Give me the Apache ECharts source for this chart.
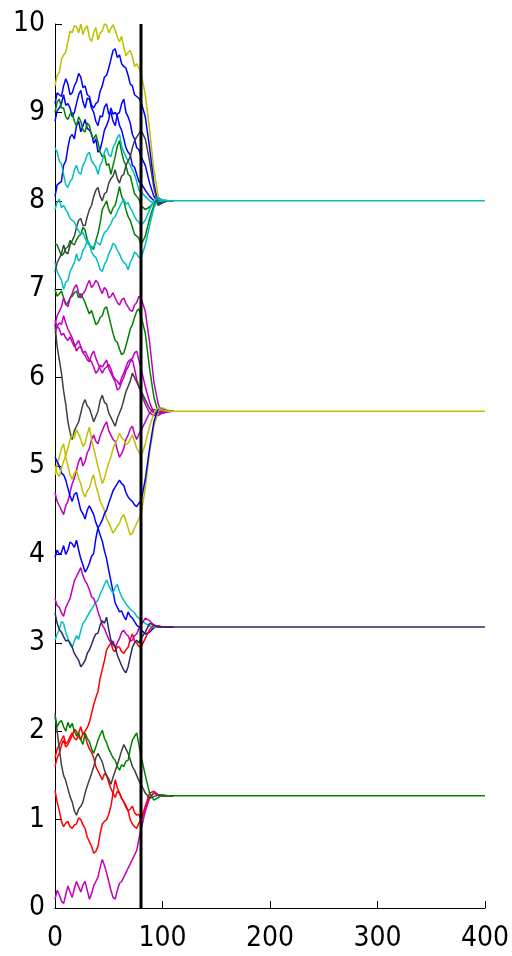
<!DOCTYPE html>
<html>
<head>
<meta charset="utf-8">
<title>Consensus of random walkers</title>
<script src="https://cdn.jsdelivr.net/npm/echarts@6/dist/echarts.min.js"></script>
<style>
  html, body { margin: 0; padding: 0; background: #ffffff; }
  #chart { width: 512px; height: 956px; }
</style>
</head>
<body>
<div id="chart"></div>
<script>
// Sampling of the random-walk phase (t = 0..80, every 2 steps)
const walkStep = 2;
// Time stamps of the settling phase after the switch at t = 80
const tailT = [84, 88, 92, 96, 100, 105, 110];
const endT = 400;
const switchT = 80;

// Levels the walkers settle on
const levels = [8.0, 5.62, 3.18, 1.27];

// Axis ticks
const xTicks = [0, 100, 200, 300, 400];
const yTicks = [0, 1, 2, 3, 4, 5, 6, 7, 8, 9, 10];

// Colour order
const C = {
  blue: '#0000ff', green: '#008000', red: '#ff0000', cyan: '#00bfbf',
  magenta: '#bf00bf', yellow: '#bfbf00', dark: '#404040', navy: '#2a2a62'
};

// ---- walkers settling on 8.0 ----
const yellowTop  = [9.3,9.42, 9.45,9.6, 9.65,9.68, 9.8,9.92, 9.9,9.98, 9.97,9.9, 10.0,9.88, 9.95,9.98, 9.85,9.8, 9.9,9.96, 9.82,9.9, 9.92,10.0, 9.99,9.9, 9.95,9.99, 9.93,9.85, 9.8,9.86, 9.74,9.64, 9.68,9.7, 9.63,9.52, 9.55,9.5, 9.45];
const yellowTopT = [9.2, 8.8, 8.35, 8.05, 7.98, 8.0, 8.0];
const blueA      = [9.1,9.22, 9.2,9.18, 9.3,9.38, 9.32,9.2, 9.22,9.3, 9.35,9.44, 9.4,9.28, 9.3,9.2, 9.18,9.08, 9.05,9.1, 9.12,9.24, 9.3,9.4, 9.42,9.5, 9.6,9.7, 9.72,9.62, 9.65,9.55, 9.52,9.5, 9.42,9.32, 9.3,9.2, 9.18,9.16, 9.12];
const blueAT     = [8.95, 8.6, 8.2, 7.95, 7.98, 8.0, 8.0];
const blueB      = [8.9,9.02, 9.05,9.1, 9.2,9.08, 9.1,9.05, 8.95,9.0, 9.1,9.2, 9.25,9.12, 9.05,9.16, 9.15,9.05, 9.0,8.9, 8.85,8.96, 8.95,9.06, 9.1,8.98, 9.0,8.9, 8.85,8.98, 9.0,9.1, 9.15,9.0, 8.95,8.88, 8.75,8.7, 8.6,8.58, 8.5];
const blueBT     = [8.4, 8.2, 8.05, 7.97, 8.0, 8.0, 8.0];
const blueC      = [8.05,8.18, 8.2,8.22, 8.4,8.45, 8.6,8.72, 8.75,8.7, 8.85,8.9, 8.78,8.85, 8.92,8.82, 8.8,8.76, 8.65,8.7, 8.55,8.58, 8.68,8.8, 8.85,8.92, 9.05,8.98, 9.0,8.96, 8.85,8.8, 8.7,8.6, 8.55,8.52, 8.4,8.38, 8.3,8.22, 8.2];
const blueCT     = [8.12, 8.05, 8.0, 7.98, 8.0, 8.0, 8.0];
const greenTop   = [9.0,9.12, 9.15,9.05, 9.05,8.95, 8.92,8.98, 9.0,8.9, 8.85,8.95, 8.9,8.8, 8.78,8.88, 8.85,8.74, 8.7,8.75, 8.66,8.55, 8.5,8.52, 8.4,8.42, 8.3,8.4, 8.5,8.62, 8.68,8.55, 8.45,8.4, 8.3,8.28, 8.18,8.08, 8.05,8.02, 7.95];
const greenTopT  = [7.9, 7.93, 7.98, 8.0, 8.0, 8.0, 8.0];
const cyanB      = [8.6,8.55, 8.45,8.42, 8.3,8.18, 8.15,8.22, 8.25,8.35, 8.4,8.32, 8.3,8.4, 8.45,8.52, 8.55,8.45, 8.42,8.38, 8.3,8.4, 8.45,8.55, 8.6,8.52, 8.5,8.6, 8.65,8.72, 8.75,8.62, 8.55,8.5, 8.45,8.4, 8.35,8.3, 8.22,8.12, 8.1];
const cyanBT     = [8.05, 8.0, 7.97, 7.99, 8.0, 8.0, 8.0];
const greenMid   = [7.52,7.5, 7.44,7.38, 7.4,7.46, 7.48,7.55, 7.52,7.5, 7.56,7.6, 7.62,7.7, 7.67,7.56, 7.5,7.48, 7.45,7.55, 7.63,7.75, 7.9,7.95, 8.0,7.9, 7.85,7.92, 7.95,8.05, 8.16,8.05, 8.0,7.9, 7.82,7.78, 7.7,7.62, 7.6,7.58, 7.5];
const greenMidT  = [7.6, 7.8, 7.95, 8.03, 8.01, 8.0, 8.0];
const cyanC      = [7.3,7.2, 7.15,7.1, 7.0,7.08, 7.1,7.2, 7.25,7.3, 7.4,7.32, 7.35,7.44, 7.48,7.55, 7.52,7.42, 7.38,7.36, 7.3,7.22, 7.2,7.28, 7.32,7.4, 7.45,7.52, 7.5,7.44, 7.4,7.34, 7.3,7.28, 7.22,7.3, 7.35,7.42, 7.4,7.36, 7.35];
const cyanCT     = [7.5, 7.72, 7.92, 8.02, 8.01, 8.0, 8.0];
const darkTop    = [7.2,7.3, 7.35,7.4, 7.5,7.42, 7.4,7.5, 7.55,7.6, 7.7,7.78, 7.8,7.72, 7.72,7.82, 7.9,7.95, 8.05,8.12, 8.15,8.05, 8.0,8.08, 8.1,8.2, 8.25,8.28, 8.35,8.25, 8.2,8.28, 8.3,8.4, 8.45,8.5, 8.6,8.68, 8.72,8.76, 8.8];
const darkTopT   = [8.7, 8.45, 8.15, 7.95, 7.98, 8.0, 8.0];
const cyanA      = [7.9,7.98, 8.02,7.92, 7.95,7.9, 7.86,7.8, 7.78,7.76, 7.7,7.66, 7.62,7.64, 7.58,7.52, 7.5,7.45, 7.48,7.54, 7.52,7.5, 7.58,7.64, 7.66,7.7, 7.74,7.8, 7.82,7.88, 7.93,7.98, 8.02,7.96, 7.98,7.92, 7.88,7.82, 7.78,7.76, 7.72];
const cyanAT     = [7.78, 7.9, 8.0, 8.04, 8.0, 8.0, 8.0];

// ---- walkers settling on 5.62 ----
const greenLow   = [7.0,6.92, 6.95,6.98, 6.9,6.82, 6.85,6.9, 6.92,6.96, 6.98,6.9, 6.95,6.9, 6.85,6.78, 6.72,6.76, 6.68,6.6, 6.62,6.68, 6.7,6.78, 6.8,6.7, 6.6,6.5, 6.42,6.4, 6.32,6.26, 6.28,6.36, 6.45,6.55, 6.6,6.68, 6.75,6.78, 6.7];
const greenLowT  = [6.5, 6.1, 5.78, 5.6, 5.6, 5.62, 5.62];
const magentaA   = [6.65,6.58, 6.55,6.48, 6.5,6.45, 6.42,6.46, 6.4,6.35, 6.38,6.42, 6.35,6.28, 6.3,6.25, 6.2,6.18, 6.12,6.05, 6.08,6.14, 6.12,6.16, 6.2,6.1, 6.05,6.0, 5.95,5.86, 5.88,5.95, 6.0,6.08, 6.12,6.18, 6.2,6.1, 5.98,5.9, 5.82];
const magentaAT  = [5.7, 5.6, 5.57, 5.6, 5.62, 5.62, 5.62];
const magentaB   = [6.5,6.58, 6.62,6.6, 6.7,6.62, 6.55,6.5, 6.45,6.38, 6.3,6.34, 6.35,6.28, 6.25,6.2, 6.18,6.26, 6.3,6.22, 6.16,6.1, 6.05,6.1, 6.12,6.15, 6.1,6.02, 5.98,5.96, 5.92,6.0, 6.05,6.12, 6.18,6.2, 6.22,6.28, 6.3,6.2, 6.1];
const magentaBT  = [5.9, 5.72, 5.6, 5.57, 5.6, 5.62, 5.62];
const magentaC   = [6.6,6.7, 6.75,6.8, 6.9,6.84, 6.8,6.9, 6.95,7.02, 7.05,6.96, 6.9,6.95, 6.98,7.05, 7.1,7.02, 7.05,7.1, 7.07,7.0, 6.95,7.02, 6.99,6.9, 6.92,6.96, 6.9,6.85, 6.82,6.88, 6.9,6.84, 6.8,6.76, 6.75,6.82, 6.85,6.92, 6.9];
const magentaCT  = [6.75, 6.4, 5.95, 5.7, 5.6, 5.61, 5.62];
const darkMid    = [6.6,6.35, 6.2,6.05, 5.85,5.7, 5.5,5.38, 5.3,5.4, 5.45,5.5, 5.6,5.7, 5.75,5.68, 5.65,5.58, 5.5,5.56, 5.62,5.74, 5.8,5.72, 5.7,5.6, 5.55,5.5, 5.45,5.54, 5.6,5.66, 5.75,5.84, 5.9,5.96, 6.05,6.0, 5.95,5.9, 5.85];
const darkMidT   = [5.75, 5.65, 5.6, 5.61, 5.62, 5.62, 5.62];
const magentaD   = [4.7,4.6, 4.55,4.5, 4.45,4.55, 4.6,4.7, 4.8,4.86, 4.95,5.05, 5.1,5.0, 5.05,5.15, 5.2,5.3, 5.35,5.28, 5.25,5.34, 5.4,5.46, 5.5,5.4, 5.35,5.3, 5.28,5.18, 5.1,5.14, 5.2,5.3, 5.35,5.42, 5.45,5.36, 5.3,5.36, 5.4];
const magentaDT  = [5.5, 5.6, 5.64, 5.62, 5.62, 5.62, 5.62];
const yellowB    = [4.9,5.02, 5.1,5.2, 5.25,5.1, 5.0,4.9, 4.85,4.92, 4.95,4.86, 4.8,4.7, 4.65,4.72, 4.75,4.84, 4.9,4.78, 4.7,4.6, 4.55,4.5, 4.4,4.36, 4.3,4.24, 4.28,4.32, 4.35,4.42, 4.45,4.38, 4.3,4.22, 4.24,4.3, 4.35,4.4, 4.45];
const yellowBT   = [4.75, 5.15, 5.45, 5.62, 5.66, 5.63, 5.62];
const blueMid    = [5.1,5.05, 5.0,4.92, 4.9,4.84, 4.75,4.66, 4.6,4.68, 4.7,4.6, 4.5,4.46, 4.4,4.5, 4.55,4.5, 4.45,4.36, 4.3,4.34, 4.39,4.46, 4.5,4.58, 4.65,4.72, 4.76,4.8, 4.84,4.8, 4.78,4.7, 4.65,4.62, 4.6,4.56, 4.54,4.58, 4.6];
const blueMidT   = [4.85, 5.2, 5.5, 5.65, 5.64, 5.62, 5.62];
const yellowA    = [5.0,4.92, 4.88,4.98, 5.05,5.12, 5.2,5.3, 5.35,5.32, 5.41,5.36, 5.3,5.22, 5.26,5.36, 5.44,5.3, 5.2,5.1, 4.99,4.9, 4.8,4.86, 4.95,5.04, 5.1,5.2, 5.25,5.3, 5.37,5.32, 5.3,5.24, 5.26,5.3, 5.35,5.28, 5.2,5.16, 5.1];
const yellowAT   = [5.25, 5.45, 5.6, 5.66, 5.63, 5.62, 5.62];

// ---- walkers settling on 3.18 ----
const blueLow    = [3.97,4.05, 4.0,4.02, 4.1,4.0, 4.05,4.14, 4.12,4.08, 4.16,4.05, 3.95,3.88, 3.8,3.84, 3.9,3.98, 4.01,4.18, 4.3,4.22, 4.15,4.04, 3.95,3.82, 3.7,3.58, 3.45,3.4, 3.35,3.36, 3.3,3.26, 3.35,3.3, 3.28,3.24, 3.2,3.18, 3.15];
const blueLowT   = [3.1, 3.12, 3.17, 3.19, 3.18, 3.18, 3.18];
const cyanLow    = [3.03,3.1, 3.15,3.24, 3.22,3.12, 3.05,2.98, 2.95,3.02, 3.08,3.04, 3.14,3.22, 3.25,3.3, 3.34,3.38, 3.42,3.46, 3.48,3.55, 3.6,3.66, 3.71,3.65, 3.6,3.56, 3.63,3.66, 3.58,3.52, 3.48,3.44, 3.41,3.38, 3.36,3.34, 3.3,3.28, 3.25];
const cyanLowT   = [3.22, 3.19, 3.18, 3.18, 3.18, 3.18, 3.18];
const redClimb   = [1.7,1.8, 1.85,1.9, 1.95,1.86, 1.88,1.94, 1.98,1.92, 1.9,1.98, 2.05,1.96, 2.0,2.04, 2.1,2.2, 2.3,2.38, 2.45,2.6, 2.7,2.8, 2.92,2.96, 3.0,2.92, 2.9,2.96, 2.95,2.9, 2.88,2.92, 2.95,3.04, 3.1,3.02, 3.0,2.96, 2.95];
const redClimbT  = [3.05, 3.15, 3.2, 3.19, 3.18, 3.18, 3.18];
const magentaLow = [3.5,3.42, 3.4,3.34, 3.3,3.4, 3.45,3.5, 3.6,3.7, 3.75,3.8, 3.85,3.76, 3.7,3.66, 3.6,3.52, 3.5,3.44, 3.35,3.28, 3.2,3.16, 3.1,3.04, 3.0,3.02, 2.95,3.0, 3.05,3.12, 3.14,3.1, 3.08,3.02, 3.03,3.08, 3.1,3.16, 3.2];
const magentaLowT= [3.28, 3.25, 3.2, 3.18, 3.18, 3.18, 3.18];
const darkLow    = [3.34,3.22, 3.15,3.12, 3.07,3.02, 3.03,3.0, 2.95,2.88, 2.84,2.8, 2.73,2.76, 2.8,2.88, 2.92,2.98, 3.05,3.1, 3.11,3.2, 3.25,3.22, 3.29,3.15, 3.03,2.98, 2.95,2.86, 2.8,2.74, 2.69,2.66, 2.73,2.84, 2.95,3.0, 3.03,3.0, 3.05];
const darkLowT   = [3.12, 3.22, 3.2, 3.18, 3.18, 3.18, 3.18];

// ---- walkers settling on 1.27 ----
const redA       = [1.33,1.2, 1.1,0.98, 0.92,0.96, 0.98,0.92, 0.9,0.94, 0.95,1.02, 1.0,0.94, 0.9,0.8, 0.75,0.7, 0.62,0.64, 0.7,0.84, 0.95,0.98, 1.0,1.06, 1.15,1.3, 1.45,1.36, 1.3,1.24, 1.2,1.16, 1.1,1.0, 0.95,0.92, 0.9,0.96, 1.0];
const redAT      = [1.15, 1.3, 1.32, 1.28, 1.27, 1.27, 1.27];
const redB       = [1.6,1.7, 1.75,1.84, 1.9,1.82, 1.85,1.9, 1.95,2.02, 2.0,1.94, 1.9,1.98, 1.95,1.86, 1.8,1.76, 1.7,1.6, 1.55,1.5, 1.45,1.52, 1.5,1.42, 1.35,1.3, 1.25,1.32, 1.3,1.24, 1.2,1.14, 1.1,1.12, 1.15,1.08, 1.05,1.06, 1.0];
const redBT      = [1.1, 1.25, 1.3, 1.28, 1.27, 1.27, 1.27];
const magentaBot = [0.1,0.2, 0.15,0.08, 0.05,0.15, 0.25,0.18, 0.12,0.22, 0.3,0.24, 0.18,0.26, 0.3,0.2, 0.1,0.16, 0.25,0.3, 0.35,0.46, 0.55,0.48, 0.4,0.3, 0.2,0.12, 0.1,0.2, 0.28,0.3, 0.35,0.4, 0.45,0.5, 0.55,0.6, 0.65,0.78, 0.88];
const magentaBotT= [1.1, 1.25, 1.3, 1.28, 1.27, 1.27, 1.27];
const darkBot    = [2.2,2.0, 1.8,1.62, 1.5,1.44, 1.35,1.26, 1.2,1.1, 1.05,1.12, 1.15,1.2, 1.3,1.38, 1.45,1.52, 1.6,1.7, 1.75,1.7, 1.65,1.56, 1.5,1.46, 1.4,1.48, 1.55,1.62, 1.7,1.78, 1.85,1.8, 1.75,1.68, 1.6,1.56, 1.5,1.44, 1.4];
const darkBotT   = [1.3, 1.24, 1.26, 1.28, 1.27, 1.27, 1.27];
const greenBot   = [2.16,2.05, 2.1,2.12, 2.05,2.0, 2.1,2.04, 2.09,2.0, 1.95,1.98, 1.9,1.85, 1.98,1.92, 1.88,1.8, 1.75,1.82, 1.9,1.96, 2.01,1.92, 1.87,1.8, 1.75,1.7, 1.67,1.6, 1.56,1.62, 1.6,1.66, 1.67,1.8, 1.9,1.94, 1.98,1.85, 1.72];
const greenBotT  = [1.5, 1.3, 1.22, 1.25, 1.28, 1.27, 1.27];

// [colour, walk, settling tail, level index]; the last walker of each group carries the flat line to t = 400
const walkers = [
  [C.yellow, yellowTop, yellowTopT, 0], [C.blue, blueA, blueAT, 0], [C.blue, blueB, blueBT, 0],
  [C.blue, blueC, blueCT, 0], [C.green, greenTop, greenTopT, 0], [C.cyan, cyanB, cyanBT, 0],
  [C.green, greenMid, greenMidT, 0], [C.cyan, cyanC, cyanCT, 0], [C.dark, darkTop, darkTopT, 0],
  [C.cyan, cyanA, cyanAT, 0],
  [C.green, greenLow, greenLowT, 1], [C.magenta, magentaA, magentaAT, 1], [C.magenta, magentaB, magentaBT, 1],
  [C.magenta, magentaC, magentaCT, 1], [C.dark, darkMid, darkMidT, 1], [C.magenta, magentaD, magentaDT, 1],
  [C.yellow, yellowB, yellowBT, 1], [C.blue, blueMid, blueMidT, 1], [C.yellow, yellowA, yellowAT, 1],
  [C.blue, blueLow, blueLowT, 2], [C.cyan, cyanLow, cyanLowT, 2], [C.red, redClimb, redClimbT, 2],
  [C.magenta, magentaLow, magentaLowT, 2], [C.navy, darkLow, darkLowT, 2],
  [C.red, redA, redAT, 3], [C.red, redB, redBT, 3], [C.magenta, magentaBot, magentaBotT, 3],
  [C.dark, darkBot, darkBotT, 3], [C.green, greenBot, greenBotT, 3]
];

const series = walkers.map(([color, walk, tail, g], idx) => {
  const data = walk.map((v, i) => [i * walkStep, v]);
  tail.forEach((v, i) => data.push([tailT[i], v]));
  const next = walkers[idx + 1];
  const lastOfGroup = !next || next[3] !== g;
  if (lastOfGroup) data.push([endT, levels[g]]);
  return {
    type: 'line', data, showSymbol: false, symbol: 'none',
    lineStyle: { color, width: 1.5 }, itemStyle: { color },
    emphasis: { disabled: true }, silent: true, z: 2
  };
});

// Thick marker at the switching time
series.push({
  type: 'line', data: [[switchT, yTicks[0]], [switchT, yTicks[yTicks.length - 1]]],
  showSymbol: false, symbol: 'none', silent: true, z: 5,
  lineStyle: { color: '#000000', width: 3 }
});

const axisFont = {
  color: '#000000', fontSize: 28,
  fontFamily: '"Liberation Sans Narrow", "DejaVu Sans Condensed", "Liberation Sans", sans-serif'
};

const chart = echarts.init(document.getElementById('chart'), null, { renderer: 'canvas' });
chart.setOption({
  animation: false,
  backgroundColor: '#ffffff',
  grid: { left: 55, right: 26, top: 24, bottom: 48, containLabel: false },
  xAxis: {
    type: 'value', min: xTicks[0], max: xTicks[xTicks.length - 1], interval: 100,
    axisLine: { show: true, onZero: false, lineStyle: { color: '#000000', width: 1 } },
    axisTick: { show: true, inside: true, length: 7, lineStyle: { color: '#000000' } },
    axisLabel: Object.assign({ margin: 17 }, axisFont),
    splitLine: { show: false }
  },
  yAxis: {
    type: 'value', min: yTicks[0], max: yTicks[yTicks.length - 1], interval: 1,
    axisLine: { show: true, onZero: false, lineStyle: { color: '#000000', width: 1 } },
    axisTick: { show: true, inside: true, length: 7, lineStyle: { color: '#000000' } },
    axisLabel: Object.assign({ margin: 10 }, axisFont),
    splitLine: { show: false }
  },
  series
});
</script>
</body>
</html>
